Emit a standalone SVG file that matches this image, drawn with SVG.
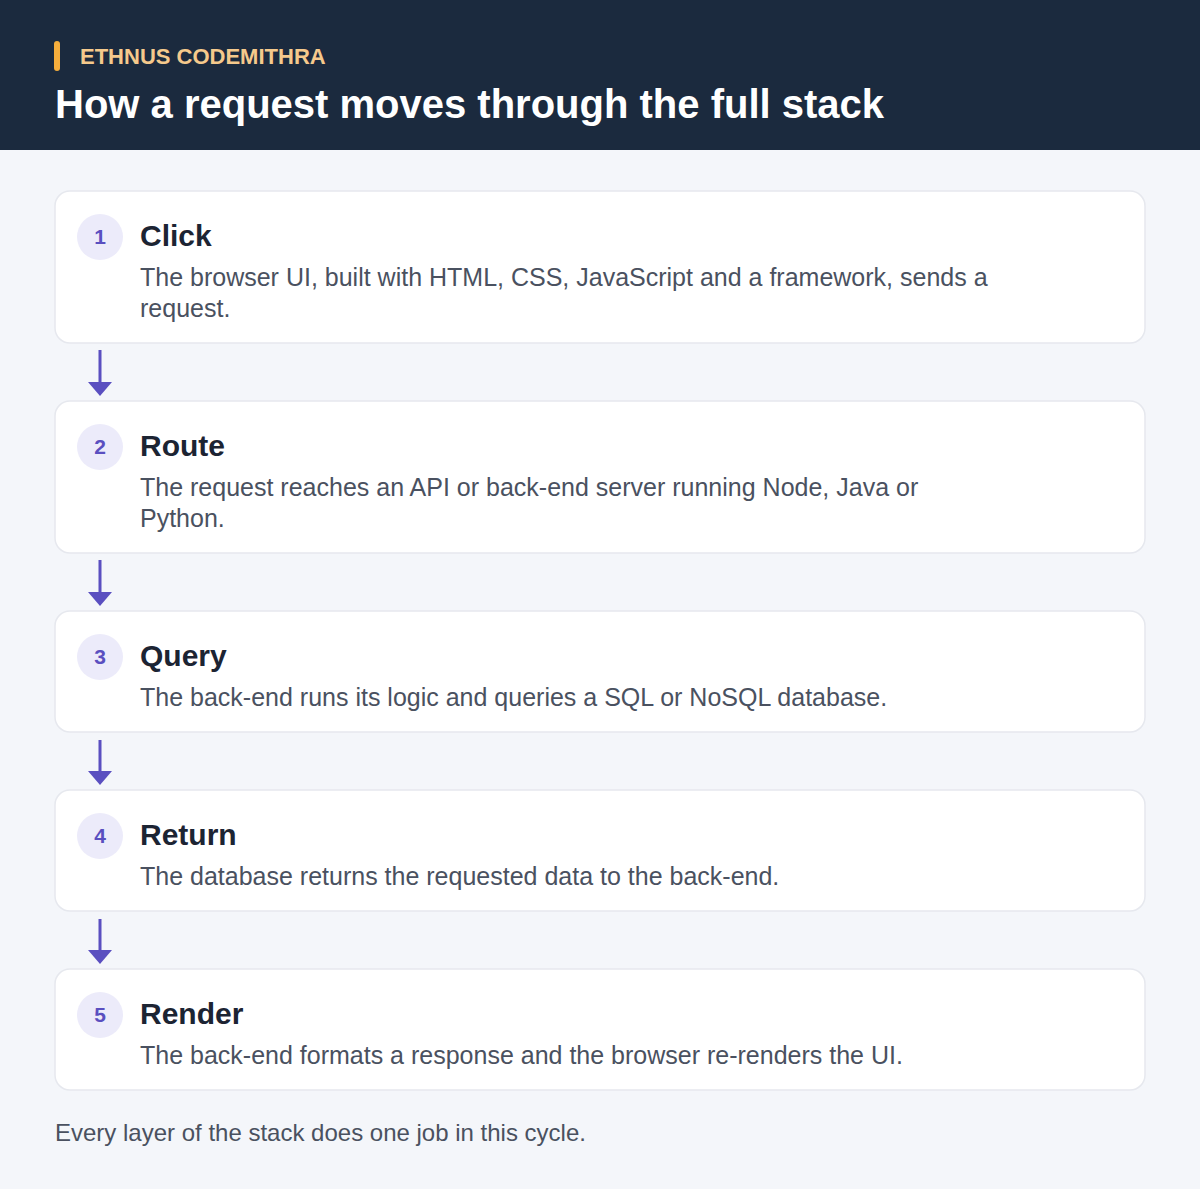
<svg xmlns="http://www.w3.org/2000/svg" width="1200" height="1189" viewBox="0 0 1200 1189">
<defs>
<style>
.card{fill:#ffffff;stroke:#e6e8ee;stroke-width:1.5}
.badge{fill:#ecebfa}
.num{font-family:"Liberation Sans",Arial,sans-serif;font-weight:700;font-size:21px;fill:#5a4fc0;text-anchor:middle}
.ttl{font-family:"Liberation Sans",Arial,sans-serif;font-weight:700;font-size:30px;fill:#1c2433}
.desc{font-family:"Liberation Sans",Arial,sans-serif;font-size:25px;fill:#4a5160}
.conn{stroke:#5a4fc0;stroke-width:3;fill:none}
</style>
<marker id="ah" markerWidth="14" markerHeight="24" refX="0" refY="12" viewBox="0 0 14 24" markerUnits="userSpaceOnUse" orient="auto">
<path d="M0,0 L14,12 L0,24 Z" fill="#5a4fc0"/>
</marker>
</defs>
<rect x="0" y="0" width="1200" height="1189" fill="#f4f6fa"/>
<g id="header">
<rect x="0" y="0" width="1200" height="150" fill="#1b2a3e"/>
<rect x="54" y="41" width="6" height="30" rx="3" fill="#f6ae3c"/>
<text x="80" y="64" font-family="Liberation Sans,Arial,sans-serif" font-weight="700" font-size="22" fill="#f5c98c">ETHNUS CODEMITHRA</text>
<text x="55" y="118" font-family="Liberation Sans,Arial,sans-serif" font-weight="700" font-size="40" fill="#ffffff">How a request moves through the full stack</text>
</g>
<g id="connectors">
<line class="conn" x1="100" y1="350" x2="100" y2="382" marker-end="url(#ah)"/>
<line class="conn" x1="100" y1="560" x2="100" y2="592" marker-end="url(#ah)"/>
<line class="conn" x1="100" y1="740" x2="100" y2="771" marker-end="url(#ah)"/>
<line class="conn" x1="100" y1="919" x2="100" y2="950" marker-end="url(#ah)"/>
</g>
<g id="step1">
<rect class="card" x="55" y="191" width="1090" height="152" rx="15"/>
<circle class="badge" cx="100" cy="237" r="23"/>
<text class="num" x="100" y="244">1</text>
<text class="ttl" x="140" y="246">Click</text>
<text class="desc" x="140" y="286">The browser UI, built with HTML, CSS, JavaScript and a framework, sends a</text>
<text class="desc" x="140" y="317">request.</text>
</g>
<g id="step2">
<rect class="card" x="55" y="401" width="1090" height="152" rx="15"/>
<circle class="badge" cx="100" cy="447" r="23"/>
<text class="num" x="100" y="454">2</text>
<text class="ttl" x="140" y="456">Route</text>
<text class="desc" x="140" y="496">The request reaches an API or back-end server running Node, Java or</text>
<text class="desc" x="140" y="527">Python.</text>
</g>
<g id="step3">
<rect class="card" x="55" y="611" width="1090" height="121" rx="15"/>
<circle class="badge" cx="100" cy="657" r="23"/>
<text class="num" x="100" y="664">3</text>
<text class="ttl" x="140" y="666">Query</text>
<text class="desc" x="140" y="706">The back-end runs its logic and queries a SQL or NoSQL database.</text>
</g>
<g id="step4">
<rect class="card" x="55" y="790" width="1090" height="121" rx="15"/>
<circle class="badge" cx="100" cy="836" r="23"/>
<text class="num" x="100" y="843">4</text>
<text class="ttl" x="140" y="845">Return</text>
<text class="desc" x="140" y="885">The database returns the requested data to the back-end.</text>
</g>
<g id="step5">
<rect class="card" x="55" y="969" width="1090" height="121" rx="15"/>
<circle class="badge" cx="100" cy="1015" r="23"/>
<text class="num" x="100" y="1022">5</text>
<text class="ttl" x="140" y="1024">Render</text>
<text class="desc" x="140" y="1064">The back-end formats a response and the browser re-renders the UI.</text>
</g>
<text x="55" y="1141" font-family="Liberation Sans,Arial,sans-serif" font-size="24" fill="#4a5160">Every layer of the stack does one job in this cycle.</text>
</svg>
